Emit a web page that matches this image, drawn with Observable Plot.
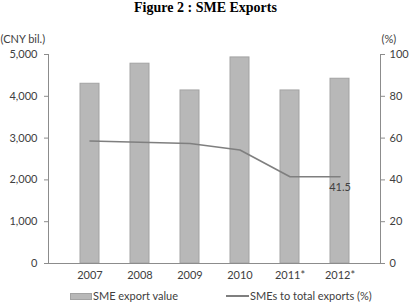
<!DOCTYPE html>
<html>
<head>
<meta charset="utf-8">
<script src="https://cdn.jsdelivr.net/npm/d3@7"></script>
<script src="https://cdn.jsdelivr.net/npm/@observablehq/plot@0.6"></script>
<style>
  html, body { margin: 0; padding: 0; background: #fff; }
  body { width: 411px; height: 308px; position: relative; overflow: hidden; font-family: Lato, "Open Sans", sans-serif; color: #404040; }
  #title { position: absolute; top: 0; left: 0; width: 411px; text-align: center; font: bold 14px/15px "Liberation Serif", "DejaVu Serif", serif; color: #000; }
  #chart { position: absolute; top: 0; left: 0; }
  #legend { position: absolute; top: 289px; left: 0; width: 411px; font-size: 11px; line-height: 14px; }
  .item { position: absolute; display: flex; align-items: center; white-space: nowrap; }
  .sw-bar { width: 22px; height: 7px; background: #b8b8b8; border: 1px solid #a3a3a3; box-sizing: border-box; margin-right: 1px; }
  .sw-line { width: 23px; height: 2px; background: #7f7f7f; margin-right: 1px; }
</style>
</head>
<body>
<div id="chart"></div>
<div id="title">Figure 2 : SME Exports</div>
<div id="legend">
  <div class="item" style="left:70px"><span class="sw-bar"></span>SME export value</div>
  <div class="item" style="left:226px"><span class="sw-line"></span>SMEs to total exports (%)</div>
</div>
<script>
// Years on the category axis
const years = ["2007", "2008", "2009", "2010", "2011*", "2012*"];
// SME export value, CNY billion (left axis)
const exportValue = [4300, 4780, 4140, 4930, 4140, 4420];
// SMEs' share of total exports, % (right axis)
const sharePct = [58.6, 58.0, 57.4, 54.3, 41.5, 41.5];
// Axis ticks
const leftTicks = [0, 1000, 2000, 3000, 4000, 5000];
const rightTicks = [0, 20, 40, 60, 80, 100];

// Both series share one vertical scale: 100% on the right maps to 5,000 on the left
const ratio = 5000 / 100;

const rows = years.map((year, i) => ({year, value: exportValue[i], pct: sharePct[i]}));
const last = rows[rows.length - 1];

const axisColor = "#8c8c8c";
const textColor = "#404040";

const chart = Plot.plot({
  width: 411,
  height: 286,
  marginLeft: 48,
  marginRight: 31,
  marginTop: 54,
  marginBottom: 23,
  style: {fontFamily: "Lato, 'Open Sans', sans-serif", fontSize: "11px", color: textColor, background: "transparent"},
  x: {type: "band", domain: years, padding: 0.62, label: null},
  y: {domain: [0, 5000], label: null},
  marks: [
    Plot.barY(rows, {x: "year", y: "value", fill: "#b8b8b8", stroke: "#a3a3a3", strokeWidth: 1}),
    Plot.lineY(rows, {x: "year", y: d => d.pct * ratio, stroke: "#7f7f7f", strokeWidth: 1.6}),
    Plot.text([last], {x: "year", y: d => d.pct * ratio, text: d => String(d.pct), dy: 11, fill: textColor, fontSize: 11}),
    // axis lines
    Plot.frame({anchor: "left", stroke: axisColor}),
    Plot.frame({anchor: "right", stroke: axisColor}),
    Plot.ruleY([0], {stroke: axisColor, insetLeft: -4, insetRight: -4}),
    Plot.axisY({anchor: "left", ticks: leftTicks, tickFormat: d3.format(","), tickSize: 4, tickPadding: 7, stroke: axisColor, fill: textColor, label: null}),
    Plot.axisY({anchor: "right", ticks: rightTicks.map(t => t * ratio), tickFormat: d => String(d / ratio), tickSize: 4, tickPadding: 5, stroke: axisColor, fill: textColor, label: null}),
    Plot.axisX({tickSize: 0, tickPadding: 8, fill: textColor, label: null}),
    // unit labels above each axis
    Plot.text(["(CNY bil.)"], {frameAnchor: "top-left", dx: -48, dy: -19, textAnchor: "start", fill: textColor, fontSize: 11}),
    Plot.text(["(%)"], {frameAnchor: "top-right", dx: 1, dy: -19, textAnchor: "start", fill: textColor, fontSize: 11})
  ]
});
document.getElementById("chart").appendChild(chart);
</script>
</body>
</html>
